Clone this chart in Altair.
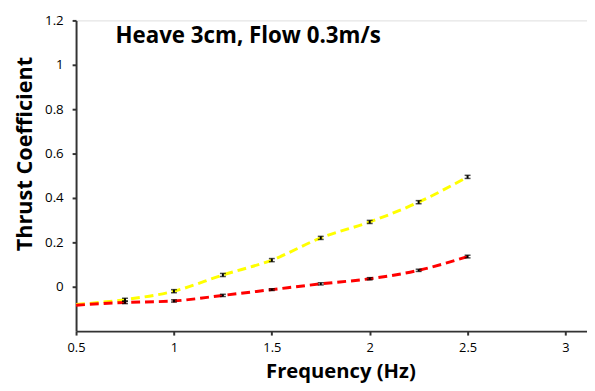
import altair as alt
import pandas as pd

freq = [0.5, 0.75, 1.0, 1.25, 1.5, 1.75, 2.0, 2.25, 2.5]
yellow = [-0.080, -0.058, -0.020, 0.053, 0.120, 0.220, 0.292, 0.381, 0.495]
red = [-0.083, -0.071, -0.064, -0.039, -0.013, 0.013, 0.036, 0.074, 0.136]
yellow_err = [0.0, 0.006, 0.007, 0.007, 0.007, 0.007, 0.007, 0.007, 0.007]
red_err = [0.0, 0.005, 0.005, 0.005, 0.004, 0.005, 0.005, 0.005, 0.006]

rows = []
for f, v, e in zip(freq, yellow, yellow_err):
    rows.append({"f": f, "v": v, "lo": v - e, "hi": v + e, "s": "yellow"})
for f, v, e in zip(freq, red, red_err):
    rows.append({"f": f, "v": v, "lo": v - e, "hi": v + e, "s": "red"})
df = pd.DataFrame(rows)
err_df = df[df["f"] > 0.5]

xs = alt.Scale(domain=[0.5, 3.11], nice=False, zero=False)
ys = alt.Scale(domain=[-0.2, 1.2], nice=False, zero=False)

xaxis = alt.Axis(values=[0.5, 1, 1.5, 2, 2.5, 3], format="~g", title="Frequency (Hz)", grid=False,
                 labelFont="Open Sans", labelFontSize=13, labelColor="#000", labelPadding=7,
                 titleFont="Open Sans", titleFontSize=20.5, titleFontWeight="bold", titleColor="#000",
                 titleX=268, titleY=47, titleBaseline="alphabetic", titleAlign="center",
                 domainColor="#333", domainWidth=2, tickColor="#333", tickSize=4, tickWidth=2,
                 labelFlush=False)
yaxis = alt.Axis(values=[0, 0.2, 0.4, 0.6, 0.8, 1.0, 1.2], format="~g", title="Thrust Coefficient", grid=False,
                 labelFont="Open Sans", labelFontSize=13.5, labelColor="#000", labelPadding=9,
                 titleFont="Open Sans", titleFontSize=22, titleFontWeight="bold", titleColor="#000",
                 titleX=-45, titleY=135, titleBaseline="alphabetic", titleAlign="center", titleAngle=-90,
                 domainColor="#333", domainWidth=2, tickColor="#333", tickSize=4, tickWidth=2,
                 labelFlush=False)

base = alt.Chart(df)

lines = base.mark_line(interpolate="monotone", strokeDash=[9, 5], strokeWidth=3).encode(
    x=alt.X("f:Q", scale=xs, axis=xaxis),
    y=alt.Y("v:Q", scale=ys, axis=yaxis),
    color=alt.Color("s:N", scale=alt.Scale(domain=["yellow", "red"], range=["#FFFF00", "#FF0000"]), legend=None),
    detail="s:N",
)

bars = alt.Chart(err_df).mark_rule(color="#000", strokeWidth=2).encode(
    x="f:Q", y="lo:Q", y2="hi:Q")
cap_lo = alt.Chart(err_df).mark_tick(color="#000", thickness=1.5, size=6, orient="horizontal").encode(
    x="f:Q", y="lo:Q")
cap_hi = alt.Chart(err_df).mark_tick(color="#000", thickness=1.5, size=6, orient="horizontal").encode(
    x="f:Q", y="hi:Q")

title = alt.Chart(pd.DataFrame({"t": ["Heave 3cm, Flow 0.3m/s"]})).mark_text(
    font="Open Sans", fontSize=22.6, fontWeight="bold", align="left", baseline="alphabetic", color="#000"
).encode(text="t:N", x=alt.value(40), y=alt.value(23))

chart = alt.layer(lines, bars, cap_lo, cap_hi, title).properties(
    width=518, height=315,
    autosize=alt.AutoSizeParams(type="none"),
    padding={"left": 69, "top": 10, "right": 0, "bottom": 50},
).configure_view(stroke=None).configure(background="white")

chart.save("out.html", embed_options={"renderer": "svg", "actions": False})
